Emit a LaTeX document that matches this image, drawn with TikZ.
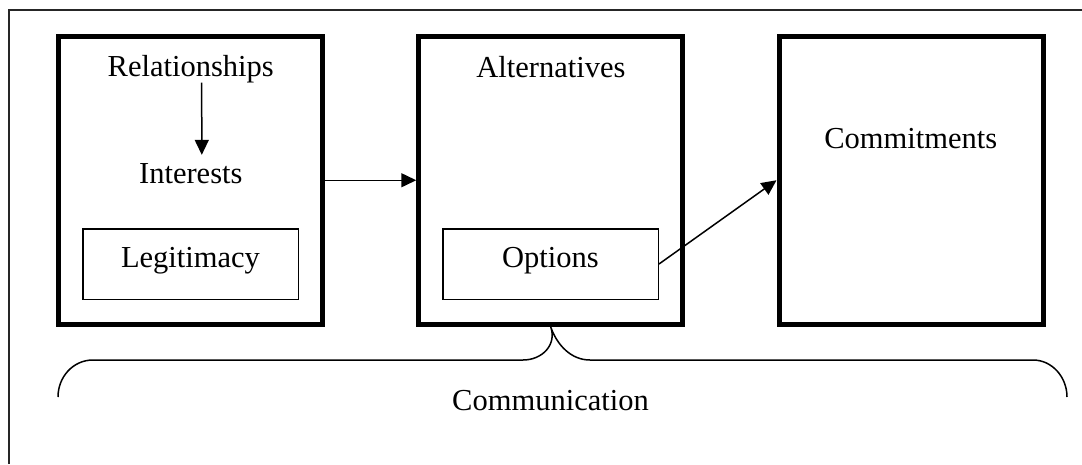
\documentclass[tikz,border=0pt]{standalone}
\usepackage{fontspec}
\setmainfont{Liberation Serif}
\usetikzlibrary{arrows.meta}
\begin{document}
\begin{tikzpicture}[x=1pt,y=-1pt,
  bigbox/.style={draw,line width=5pt,minimum width=264pt,minimum height=288.5pt,inner sep=0pt},
  smallbox/.style={draw,line width=1.5pt,minimum width=215.5pt,minimum height=70.5pt,inner sep=0pt},
  lbl/.style={anchor=base,inner sep=0pt,font=\fontsize{30.5}{36}\selectfont},
  arr/.style={line width=1.5pt,-{Triangle[length=15pt,width=14pt]}},
  frame/.style={line width=1.5pt,black!85},
  bracepath/.style={line width=1.5pt}]
\useasboundingbox (0,0) rectangle (1082,464);
% outer frame (cropped at right and bottom)
\draw[frame] (9,464) -- (9,10) -- (1082,10);
% big boxes
\node[bigbox] (b1) at (190.75,180.25) {};
\node[bigbox] (b2) at (550.75,180.25) {};
\node[bigbox] (b3) at (911,180.25) {};
% small boxes
\node[smallbox] (leg) at (190.5,264) {};
\node[smallbox] (opt) at (550.5,264) {};
% labels
\node[lbl] (rel) at (190.7,76) {Relationships};
\node[lbl] (int) at (190.8,183) {Interests};
\node[lbl] (legt) at (190.5,267) {Legitimacy};
\node[lbl] (alt) at (551,77) {Alternatives};
\node[lbl] (optt) at (550.5,267) {Options};
\node[lbl] (com) at (910.7,148) {Commitments};
\node[lbl] (comm) at (550.5,410) {Communication};
% arrows
\draw[arr] ([xshift=11pt]rel.south) -- ([xshift=11pt,yshift=8pt]int.north);
\draw[arr] (b1.east) -- (b2.west);
\draw[arr] (opt.east) -- (b3.west);
% brace
\coordinate (tip) at (b2.south);
\draw[bracepath] (58,397) .. controls (58,377) and (73,360) .. (93,360)
  -- (523,360) .. controls (542,360) and (557,345) .. (tip)
  .. controls (557,345) and (571,360) .. (590,360)
  -- (1033,360) .. controls (1052,360) and (1067,377) .. (1067,397);
\end{tikzpicture}
\end{document}
